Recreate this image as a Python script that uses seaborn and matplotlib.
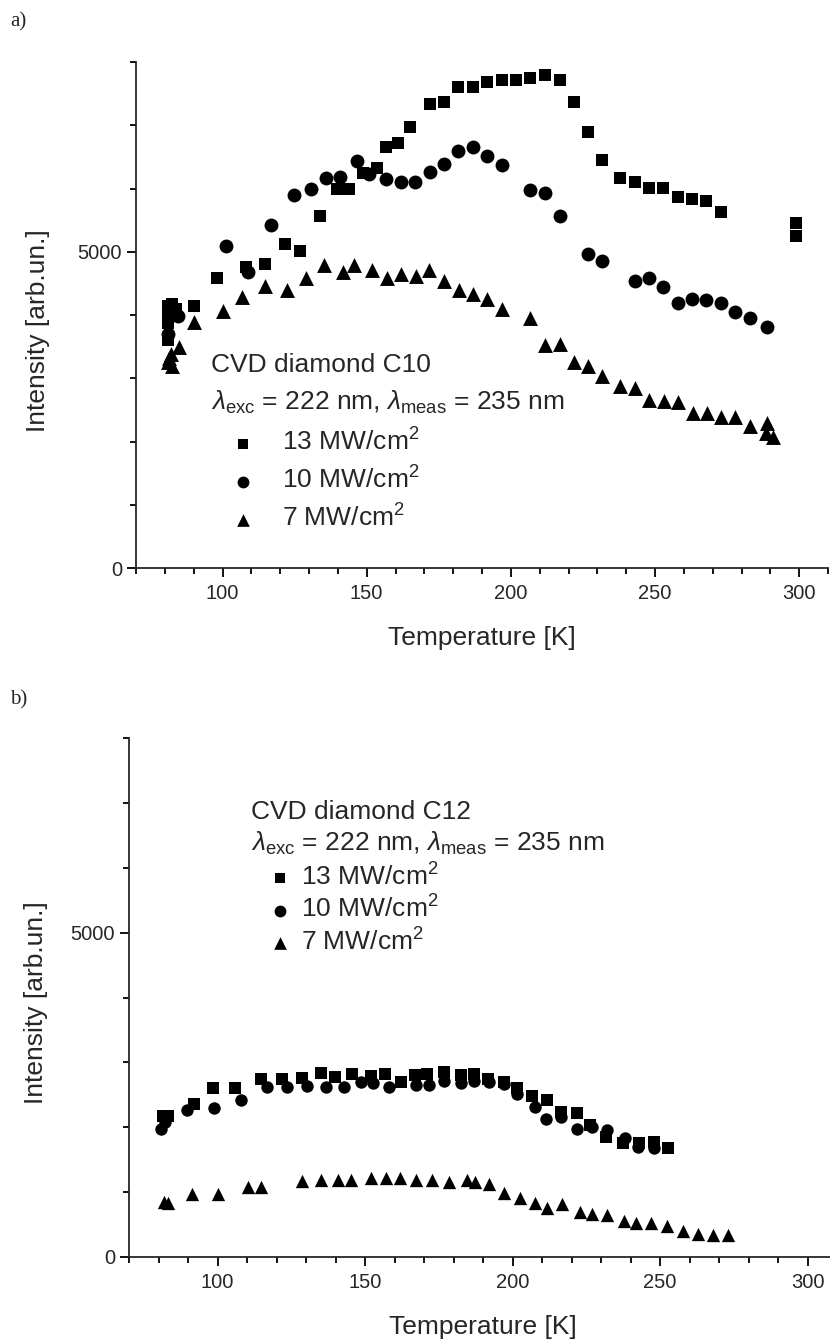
import matplotlib
matplotlib.use("Agg")
import matplotlib.pyplot as plt
import matplotlib.ticker as mticker
import pandas as pd
import seaborn as sns

# ---- panel a) CVD diamond C10 ----
a13_temp = [81, 81, 81, 81, 82.5, 84, 90, 98, 108, 114.8, 121.7, 126.9, 133.8, 139.8, 143.9,
            148.9, 153.7, 156.8, 160.8, 164.9, 171.8, 176.8, 181.8, 186.8, 191.8, 196.8, 201.9,
            206.8, 211.8, 216.9, 221.8, 226.8, 231.7, 237.7, 242.9, 247.8, 252.8, 257.9, 262.9,
            267.8, 272.9, 298.9, 298.9]
a13_int = [4150, 4000, 3870, 3600, 4180, 4100, 4150, 4590, 4760, 4800, 5130, 5010, 5570, 6000, 5990,
           6240, 6320, 6660, 6720, 6980, 7330, 7360, 7600, 7600, 7680, 7720, 7720,
           7750, 7790, 7720, 7370, 6890, 6450, 6170, 6100, 6010, 6010, 5870, 5840,
           5800, 5630, 5460, 5250]

a10_temp = [81, 84.5, 101.1, 108.7, 116.7, 124.8, 130.8, 135.8, 140.6, 146.8, 150.8, 156.8, 162,
            166.7, 171.9, 176.8, 181.8, 186.8, 191.8, 196.8, 206.8, 211.8, 216.9, 226.8, 231.7,
            243, 247.8, 252.8, 257.9, 262.9, 267.8, 272.9, 277.9, 282.8, 288.8]
a10_int = [3700, 3990, 5090, 4680, 5420, 5890, 5990, 6160, 6180, 6440, 6230, 6150, 6100,
           6100, 6260, 6380, 6590, 6650, 6520, 6370, 5980, 5930, 5570, 4960, 4860,
           4530, 4580, 4450, 4190, 4260, 4230, 4190, 4050, 3950, 3810]

a7_temp = [81, 81.5, 82, 82.5, 85, 90.2, 100.2, 106.9, 114.7, 122.2, 129.1, 135.2, 141.9, 145.6,
           152, 156.9, 161.8, 167, 171.6, 176.8, 182, 186.8, 191.8, 196.8, 206.8, 211.8, 216.9,
           221.8, 226.8, 231.7, 237.7, 242.9, 247.8, 253, 257.9, 263.1, 268.1, 272.9, 277.9,
           282.8, 288.8, 288.6, 290.9]
a7_int = [3250, 3320, 3390, 3190, 3500, 3890, 4070, 4280, 4460, 4390, 4580, 4790, 4680, 4790,
          4710, 4580, 4650, 4620, 4710, 4540, 4390, 4330, 4260, 4100, 3950, 3530, 3540,
          3250, 3200, 3040, 2870, 2850, 2660, 2640, 2630, 2450, 2450, 2380, 2390,
          2250, 2290, 2130, 2070]

# ---- panel b) CVD diamond C12 ----
b13_temp = [81.4, 83.1, 92.1, 98.5, 105.9, 114.7, 121.8, 128.8, 135.2, 139.9, 145.7, 151.9, 156.8,
            162.1, 166.8, 171.1, 176.8, 182.4, 186.9, 191.7, 197.1, 201.6, 206.7, 211.8, 216.6,
            221.9, 226.4, 231.7, 237.4, 242.8, 247.9, 252.7]
b13_int = [2175, 2175, 2365, 2600, 2600, 2750, 2750, 2765, 2840, 2775, 2815, 2790, 2825,
           2700, 2800, 2815, 2850, 2800, 2825, 2750, 2700, 2600, 2480, 2415, 2235,
           2225, 2030, 1850, 1750, 1760, 1765, 1675]

b10_temp = [80.8, 82.3, 89.8, 98.9, 107.9, 116.9, 123.5, 130.5, 136.7, 142.9, 148.6, 152.8, 158.1,
            167.2, 171.7, 176.8, 182.4, 186.9, 192, 197.1, 201.6, 207.6, 211.5, 216.6, 221.7,
            226.8, 231.9, 238, 242.6, 247.9]
b10_int = [1980, 2085, 2260, 2300, 2415, 2620, 2620, 2630, 2620, 2620, 2690, 2680, 2620,
           2645, 2645, 2720, 2675, 2710, 2700, 2660, 2510, 2315, 2125, 2160, 1970,
           2000, 1955, 1835, 1700, 1675]

b7_temp = [82, 83.1, 91.2, 100, 110.2, 114.7, 128.6, 135, 141, 145.2, 151.9, 157, 161.8, 167.2,
           172.8, 178.5, 184.7, 187.3, 192, 197.1, 202.7, 207.6, 211.7, 216.8, 222.8, 226.8,
           231.9, 237.7, 241.9, 246.8, 252.4, 257.7, 262.9, 267.9, 273.1]
b7_int = [855, 830, 970, 970, 1075, 1075, 1170, 1185, 1185, 1185, 1225, 1215, 1225, 1185,
          1185, 1160, 1185, 1150, 1125, 985, 905, 830, 755, 820, 700, 665,
          650, 560, 530, 530, 480, 395, 360, 345, 345]

labels = ["13 MW/cm$^2$", "10 MW/cm$^2$", "7 MW/cm$^2$"]
markers = ["s", "o", "^"]
sizes = [85, 100, 115]

sns.set_style("ticks")
plt.rcParams["font.family"] = ["Liberation Sans", "DejaVu Sans"]
plt.rcParams["mathtext.fontset"] = "custom"
plt.rcParams["mathtext.rm"] = "Liberation Sans"
plt.rcParams["mathtext.it"] = "Liberation Sans:italic"
plt.rcParams["mathtext.sf"] = "Liberation Sans"
plt.rcParams["axes.linewidth"] = 1.3


def panel(ax, series, title, legend_anchor, labelspacing, textpad, head_x, head_y, scale):
    for (t, i), lab, m, s in zip(series, labels, markers, sizes):
        df = pd.DataFrame({"T": t, "I": i})
        sns.scatterplot(data=df, x="T", y="I", marker=m, s=s * scale, color="black",
                        linewidth=0, ax=ax, label=lab, clip_on=False)
    ax.set_xlim(70, 310)
    ax.set_ylim(0, 8000)
    ax.xaxis.set_major_locator(mticker.MultipleLocator(50))
    ax.xaxis.set_minor_locator(mticker.MultipleLocator(10))
    ax.yaxis.set_major_locator(mticker.MultipleLocator(5000))
    ax.yaxis.set_minor_locator(mticker.MultipleLocator(1000))
    ax.tick_params(which="major", length=6.5, width=1.3, labelsize=14.5, color="black")
    ax.tick_params(which="minor", length=4.3, width=1.3, color="black")
    ax.tick_params(axis="x", which="major", pad=5)
    sns.despine(ax=ax)
    ax.set_xlabel("Temperature [K]", fontsize=19)
    ax.set_ylabel("Intensity [arb.un.]", fontsize=19)
    ax.text(head_x, head_y[0], title, transform=ax.transAxes,
            fontsize=19, va="baseline")
    ax.text(head_x, head_y[1],
            r"$\it{\lambda}_{\rm exc}$ = 222 nm, $\it{\lambda}_{\rm meas}$ = 235 nm",
            transform=ax.transAxes, fontsize=19, va="baseline")
    ax.legend(loc="upper left", bbox_to_anchor=legend_anchor, frameon=False,
              fontsize=19, borderpad=0, borderaxespad=0, handlelength=1.0,
              handletextpad=textpad, labelspacing=labelspacing,
              markerscale=0.85 / scale ** 0.5)


fig = plt.figure(figsize=(8.3, 13.39), dpi=100)
ax_a = fig.add_axes([136 / 830, 1 - 568 / 1339, 692 / 830, 506 / 1339])
ax_b = fig.add_axes([129 / 830, 1 - 1257 / 1339, 708 / 830, 519 / 1339])

panel(ax_a, [(a13_temp, a13_int), (a10_temp, a10_int), (a7_temp, a7_int)],
      "CVD diamond C10", (0.135, 0.275), 0.4, 1.0, 0.108, (0.388, 0.312), 1.0)
panel(ax_b, [(b13_temp, b13_int), (b10_temp, b10_int), (b7_temp, b7_int)],
      "CVD diamond C12", (0.195, 0.759), 0.2, 0.3, 0.173, (0.843, 0.782), 0.8)

ax_a.xaxis.set_label_coords(0.5, -0.115)
ax_b.xaxis.set_label_coords(0.5, -0.112)
ax_a.yaxis.set_label_coords(-0.124, 0.47)
ax_b.yaxis.set_label_coords(-0.114, 0.49)

fig.text(10 / 830, 1 - 22 / 1339, "a)", family="Liberation Serif", fontsize=15, va="center")
fig.text(10 / 830, 1 - 700 / 1339, "b)", family="Liberation Serif", fontsize=15, va="center")

fig.savefig("out.png", dpi=100)
